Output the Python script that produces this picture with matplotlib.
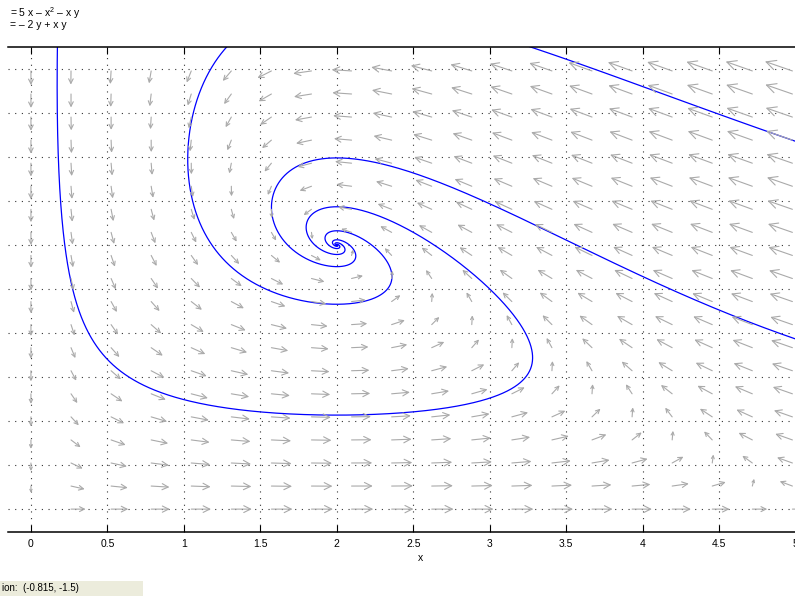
import numpy as np
import matplotlib
matplotlib.use("Agg")
import matplotlib.pyplot as plt
from matplotlib.patches import Rectangle

plt.rcParams['font.family'] = ['Liberation Sans', 'DejaVu Sans']
plt.rcParams['mathtext.fontset'] = 'custom'
plt.rcParams['mathtext.rm'] = 'Liberation Sans'
plt.rcParams['mathtext.it'] = 'Liberation Sans'

# system shown at the top left: x' = 5x - x^2 - xy, y' = -2y + xy
def field(x, y):
    return 5 * x - x ** 2 - x * y, -2 * y + x * y

# ticks
x_ticks = [0, 0.5, 1, 1.5, 2, 2.5, 3, 3.5, 4, 4.5, 5]
x_tick_labels = ['0', '0.5', '1', '1.5', '2', '2.5', '3', '3.5', '4', '4.5', '5']
y_ticks = [0, 0.5, 1, 1.5, 2, 2.5, 3, 3.5, 4, 4.5, 5]

# arrow grid (tails of the field arrows)
arrow_x = [0.0, 0.262, 0.524, 0.786, 1.048, 1.31, 1.572, 1.834, 2.096, 2.358,
           2.62, 2.882, 3.144, 3.406, 3.668, 3.93, 4.192, 4.454, 4.716, 4.978]
arrow_y = [0.0, 0.262, 0.524, 0.786, 1.048, 1.31, 1.572, 1.834, 2.096, 2.358,
           2.62, 2.882, 3.144, 3.406, 3.668, 3.93, 4.192, 4.454, 4.716, 4.978]

# points the solution curves pass through
seed_x = [2.0, 1.025, 2.0, 4.0]
seed_y = [1.068, 4.0, 3.99, 4.80]

xlim = (-0.15, 5.25)
ylim = (-0.26, 5.25)


def solve(x0, y0, sign, dt=0.002, nmax=8000):
    xs, ys = [x0], [y0]
    x, y = x0, y0
    for _ in range(nmax):
        k1 = field(x, y)
        k2 = field(x + sign * dt / 2 * k1[0], y + sign * dt / 2 * k1[1])
        k3 = field(x + sign * dt / 2 * k2[0], y + sign * dt / 2 * k2[1])
        k4 = field(x + sign * dt * k3[0], y + sign * dt * k3[1])
        x = x + sign * dt / 6 * (k1[0] + 2 * k2[0] + 2 * k3[0] + k4[0])
        y = y + sign * dt / 6 * (k1[1] + 2 * k2[1] + 2 * k3[1] + k4[1])
        xs.append(x)
        ys.append(y)
        if x < -0.25 or x > 5.35 or y < -0.35 or y > 5.35:
            break
    return xs, ys


fig = plt.figure(figsize=(7.95, 5.96), dpi=100)
ax = fig.add_axes([8 / 795, 64 / 596, 826 / 795, 485 / 596])
ax.set_xlim(*xlim)
ax.set_ylim(*ylim)

# pixels per data unit, used for arrow head size
px_x = 826 / (xlim[1] - xlim[0])
px_y = 485 / (ylim[1] - ylim[0])

for ax_x in arrow_x:
    for ax_y in arrow_y:
        u, v = field(ax_x, ax_y)
        m = np.hypot(u, v)
        if m < 1e-9:
            continue
        L = 0.148 * (m / 7.2) ** 0.25
        dx, dy = L * u / m, L * v / m
        plen = np.hypot(dx * px_x, dy * px_y)
        ax.annotate('', xy=(ax_x + dx, ax_y + dy), xytext=(ax_x, ax_y),
                    arrowprops=dict(arrowstyle='->', color='#aaaaaa', lw=0.8,
                                    shrinkA=0, shrinkB=0,
                                    mutation_scale=0.6 * plen),
                    annotation_clip=False)

for sx, sy in zip(seed_x, seed_y):
    bx, by = solve(sx, sy, -1)
    fx, fy = solve(sx, sy, 1)
    xs = bx[::-1] + fx[1:]
    ys = by[::-1] + fy[1:]
    ax.plot(xs, ys, color='#0000ff', lw=0.9)

ax.set_xticks(x_ticks)
ax.set_xticklabels(x_tick_labels)
ax.set_yticks(y_ticks)
ax.grid(True, linestyle=(0, (1, 5)), color='#333333', linewidth=0.8)
ax.tick_params(direction='in', length=5, width=0.8, top=True, labeltop=False,
               left=False, labelleft=False, right=False, labelsize=7.5, pad=5)
ax.spines['left'].set_visible(False)
for s in ['top', 'bottom']:
    ax.spines[s].set_linewidth(1.1)
ax.set_xlabel('x', fontsize=7.5, labelpad=3)

fig.text(10 / 795, 1 - 13 / 596, '= 5 x – x$^{2}$ – x y', fontsize=7.5, va='center')
fig.text(10 / 795, 1 - 25 / 596, '= – 2 y + x y', fontsize=7.5, va='center')

fig.patches.append(Rectangle((0, 0), 143 / 795, 15 / 596, transform=fig.transFigure,
                             facecolor='#ececdc', edgecolor='none'))
fig.text(2 / 795, 8 / 596, 'ion:  (-0.815, -1.5)', fontsize=7, va='center')

fig.savefig('out.png', dpi=100)
